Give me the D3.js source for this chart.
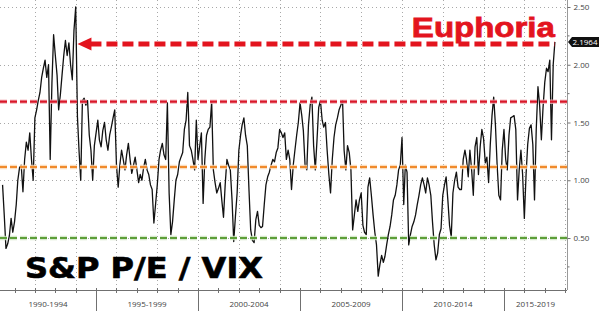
<!DOCTYPE html>
<html>
<head>
<meta charset="utf-8">
<script src="https://cdnjs.cloudflare.com/ajax/libs/d3/7.8.5/d3.min.js"></script>
<style>
  body { margin: 0; background: #fff; }
  svg { display: block; }
</style>
</head>
<body>
<div id="chart"></div>
<script>
// S&P P/E divided by VIX, monthly, from June 1990
var firstMonth = new Date(1990, 5, 1);
var ratio = [
  0.96, 0.70, 0.41, 0.45, 0.52, 0.67, 0.55,                                // 1990
  0.64, 0.79, 1.00, 1.11, 1.13, 0.90, 1.18, 1.33, 1.26, 1.41, 1.18, 1.00,  // 1991
  1.54, 1.61, 1.69, 1.76, 1.89, 1.97, 2.04, 1.89, 2.00, 1.18, 1.84, 2.26,  // 1992
  2.08, 1.91, 1.61, 1.74, 1.91, 2.08, 2.21, 2.08, 2.19, 2.00, 1.87, 2.30,  // 1993
  2.50, 1.55, 1.26, 1.00, 1.69, 1.71, 1.65, 1.69, 1.39, 1.26, 1.00, 1.30,  // 1994
  1.41, 1.52, 1.35, 1.29, 1.43, 1.50, 1.35, 1.26, 1.39, 1.46, 1.54, 1.61,  // 1995
  1.13, 0.94, 1.13, 1.26, 1.18, 1.09, 1.22, 1.32, 1.18, 1.06, 1.13, 1.20,  // 1996
  1.09, 0.98, 1.05, 1.00, 1.11, 1.18, 1.09, 1.05, 0.96, 0.92, 0.63, 0.79,  // 1997
  0.96, 1.18, 1.26, 1.32, 1.22, 1.18, 1.67, 0.89, 0.53, 0.64, 0.83, 1.00,  // 1998
  1.05, 1.16, 1.20, 1.24, 1.44, 1.52, 1.76, 1.30, 1.26, 1.18, 1.09, 1.52,  // 1999
  1.18, 1.30, 1.41, 0.80, 1.18, 1.39, 1.44, 1.46, 1.68, 1.09, 0.98, 0.89,  // 2000
  0.93, 0.98, 0.83, 0.68, 0.96, 1.18, 1.13, 1.09, 0.83, 0.47, 0.69, 0.89,  // 2001
  1.26, 1.39, 1.48, 1.54, 1.39, 1.30, 0.92, 0.57, 0.48, 0.46, 0.66, 0.73,  // 2002
  0.61, 0.59, 0.60, 0.79, 0.96, 1.03, 1.07, 1.13, 1.18, 1.16, 1.24, 1.28,  // 2003
  1.44, 1.41, 1.37, 1.41, 1.18, 1.26, 1.18, 0.92, 1.13, 1.26, 1.39, 1.50,  // 2004
  1.67, 1.56, 1.43, 1.13, 1.09, 1.48, 1.65, 1.72, 1.30, 1.09, 1.35, 1.63,  // 2005
  1.69, 1.52, 1.46, 1.50, 1.26, 1.05, 0.89, 1.18, 1.37, 1.48, 1.54, 1.61,  // 2006
  1.65, 1.69, 1.26, 1.09, 1.30, 1.24, 1.09, 0.57, 0.70, 0.83, 0.73, 0.83,  // 2007
  0.89, 0.61, 0.55, 0.53, 0.94, 1.02, 0.87, 0.70, 0.55, 0.44, 0.17, 0.27,  // 2008
  0.35, 0.29, 0.34, 0.44, 0.53, 0.60, 0.70, 0.83, 0.87, 0.96, 1.09, 1.13,  // 2009
  1.37, 0.79, 1.13, 1.07, 0.44, 0.53, 0.60, 0.64, 0.70, 0.79, 0.87, 0.96,  // 2010
  1.02, 0.96, 0.89, 1.02, 0.96, 0.87, 0.64, 0.44, 0.31, 0.37, 0.53, 0.58,  // 2011
  0.87, 0.96, 1.03, 0.83, 0.61, 0.51, 0.89, 1.00, 1.07, 0.94, 0.92, 0.92,  // 2012
  1.18, 1.26, 1.18, 1.03, 1.26, 1.09, 0.87, 1.29, 1.37, 1.05, 1.29, 1.44,  // 2013
  1.36, 1.15, 1.20, 0.98, 1.31, 1.56, 1.72, 1.48, 1.13, 0.87, 0.83, 1.26,  // 2014
  1.44, 1.18, 1.09, 1.39, 1.54, 1.55, 1.56, 1.44, 0.83, 1.09, 1.26, 1.05,  // 2015
  0.67, 1.05, 1.31, 1.45, 1.48, 1.31, 0.83, 1.44, 1.81, 1.65, 1.35, 1.63,  // 2016
  1.85, 1.97, 1.94, 2.04, 1.35, 2.00, 2.1964                               // 2017
];

// horizontal reference levels: red, orange, green
var levels = [1.68, 1.115, 0.50];
var euphoriaLevel = 2.18;
var arrowFrom = new Date(1994, 1, 1);
var arrowTo = new Date(2017, 6, 1);

var periodStarts = [1990, 1995, 2000, 2005, 2010, 2015];
var periodLabels = ["1990-1994", "1995-1999", "2000-2004", "2005-2009", "2010-2014", "2015-2019"];
var yTicks = [0.5, 1.0, 1.5, 2.0, 2.5];
var yMinorTicks = [0.25, 0.75, 1.25, 1.75, 2.25];

var width = 600, height = 311;
var plotRight = 567, plotBottom = 290;

var data = ratio.map(function(v, i) {
  return { date: d3.timeMonth.offset(firstMonth, i), value: v };
});

var x = d3.scaleTime()
  .domain([new Date(1990, 3, 16), new Date(2018, 1, 3)])
  .range([0, plotRight]);

var y = d3.scaleLinear()
  .domain([0.05, 2.5606])
  .range([plotBottom, 0]);

var svg = d3.select("#chart")
  .append("svg")
  .attr("width", width)
  .attr("height", height);

svg.append("rect")
  .attr("width", width)
  .attr("height", height)
  .attr("fill", "#fff");

// dotted grid
var grid = svg.append("g")
  .attr("stroke", "#a8a8a8")
  .attr("stroke-width", 1)
  .attr("stroke-dasharray", "1,3");

grid.selectAll("line.v")
  .data(d3.timeYear.every(2).range(new Date(1991, 0, 1), new Date(2018, 0, 2)))
  .enter()
  .append("line")
  .attr("x1", function(d) { return Math.round(x(d)) + 0.5; })
  .attr("x2", function(d) { return Math.round(x(d)) + 0.5; })
  .attr("y1", 0)
  .attr("y2", plotBottom);

grid.selectAll("line.h")
  .data(yTicks)
  .enter()
  .append("line")
  .attr("x1", 0)
  .attr("x2", plotRight)
  .attr("y1", function(d) { return Math.round(y(d)) + 0.5; })
  .attr("y2", function(d) { return Math.round(y(d)) + 0.5; });

// the series
var line = d3.line()
  .x(function(d) { return x(d.date); })
  .y(function(d) { return y(d.value); });

svg.append("path")
  .datum(data)
  .attr("d", line)
  .attr("fill", "none")
  .attr("stroke", "#111")
  .attr("stroke-width", 1.3)
  .attr("stroke-linejoin", "round");

// reference levels
var levelColors = ["#d9182a", "#f08a2c", "#5c9e38"];
var haloColors = ["#f3b7bd", "#fbd6b0", "#cfe4c3"];

svg.selectAll("line.halo")
  .data(levels)
  .enter()
  .append("line")
  .attr("x1", 0)
  .attr("x2", plotRight)
  .attr("y1", function(d) { return y(d); })
  .attr("y2", function(d) { return y(d); })
  .attr("stroke", function(d, i) { return haloColors[i]; })
  .attr("stroke-width", 4.5)
  .attr("stroke-dasharray", "7,3")
  .attr("opacity", 0.8);

svg.selectAll("line.level")
  .data(levels)
  .enter()
  .append("line")
  .attr("x1", 0)
  .attr("x2", plotRight)
  .attr("y1", function(d) { return y(d); })
  .attr("y2", function(d) { return y(d); })
  .attr("stroke", function(d, i) { return levelColors[i]; })
  .attr("stroke-width", 2.2)
  .attr("stroke-dasharray", "7,3");

// euphoria arrow
var ay = y(euphoriaLevel);
var tipX = x(arrowFrom);
svg.append("line")
  .attr("x1", tipX + 13)
  .attr("x2", x(arrowTo))
  .attr("y1", ay)
  .attr("y2", ay)
  .attr("stroke", "#e3141e")
  .attr("stroke-width", 5)
  .attr("stroke-dasharray", "11,5");

svg.append("path")
  .attr("d", "M" + tipX + "," + ay + "L" + (tipX + 14) + "," + (ay - 6.5) + "L" + (tipX + 14) + "," + (ay + 6.5) + "Z")
  .attr("fill", "#e3141e");

svg.append("text")
  .attr("x", x(arrowTo))
  .attr("y", 37)
  .attr("text-anchor", "end")
  .attr("font-family", "Liberation Sans, Arial, sans-serif")
  .attr("font-weight", "bold")
  .attr("font-size", "28px")
  .attr("textLength", 143)
  .attr("lengthAdjust", "spacingAndGlyphs")
  .attr("fill", "#e3141e")
  .attr("stroke", "#e3141e")
  .attr("stroke-width", 0.8)
  .text("Euphoria");

// big title
svg.append("text")
  .attr("x", 25)
  .attr("y", 278)
  .attr("font-family", "DejaVu Sans, sans-serif")
  .attr("font-weight", "bold")
  .attr("font-size", "29px")
  .attr("textLength", 238)
  .attr("lengthAdjust", "spacingAndGlyphs")
  .attr("fill", "#000")
  .attr("stroke", "#000")
  .attr("stroke-width", 0.6)
  .text("S&P P/E / VIX");

// bottom axis
var axisColor = "#707070";
svg.append("line")
  .attr("x1", 0)
  .attr("x2", plotRight)
  .attr("y1", plotBottom + 0.5)
  .attr("y2", plotBottom + 0.5)
  .attr("stroke", axisColor);

svg.selectAll("line.yr")
  .data(d3.timeYear.range(new Date(1991, 0, 1), new Date(2018, 0, 2)))
  .enter()
  .append("line")
  .attr("x1", function(d) { return Math.round(x(d)) + 0.5; })
  .attr("x2", function(d) { return Math.round(x(d)) + 0.5; })
  .attr("y1", plotBottom - 2)
  .attr("y2", plotBottom + 3)
  .attr("stroke", axisColor);

svg.selectAll("line.period")
  .data(periodStarts.slice(1))
  .enter()
  .append("line")
  .attr("x1", function(d) { return Math.round(x(new Date(d, 0, 1))) + 0.5; })
  .attr("x2", function(d) { return Math.round(x(new Date(d, 0, 1))) + 0.5; })
  .attr("y1", plotBottom)
  .attr("y2", height)
  .attr("stroke", axisColor);

svg.selectAll("text.period")
  .data(periodStarts)
  .enter()
  .append("text")
  .attr("x", function(d) {
    var a = Math.max(0, x(new Date(d, 0, 1)));
    var b = Math.min(plotRight, x(new Date(d + 5, 0, 1)));
    return (a + b) / 2;
  })
  .attr("y", 307)
  .attr("text-anchor", "middle")
  .attr("font-family", "Open Sans, sans-serif")
  .attr("font-size", "8px")
  .attr("fill", "#444")
  .text(function(d, i) { return periodLabels[i]; });

// right axis
var yAxis = svg.append("g")
  .attr("transform", "translate(" + (plotRight + 0.5) + ",0)")
  .call(d3.axisRight(y)
    .tickValues(yTicks)
    .tickFormat(d3.format(".2f"))
    .tickSize(3)
    .tickPadding(3));

yAxis.select(".domain")
  .attr("d", "M0,0V" + plotBottom)
  .attr("stroke", "#999");
yAxis.selectAll(".tick line").attr("stroke", axisColor);
yAxis.selectAll(".tick text")
  .attr("font-family", "Open Sans, sans-serif")
  .attr("font-size", "8px")
  .attr("fill", "#444");

yAxis.selectAll("line.minor")
  .data(yMinorTicks)
  .enter()
  .append("line")
  .attr("x1", 0)
  .attr("x2", 2)
  .attr("y1", function(d) { return y(d); })
  .attr("y2", function(d) { return y(d); })
  .attr("stroke", axisColor);

// last value tag
var last = data[data.length - 1];
var ly = y(last.value);
svg.append("path")
  .attr("d", "M" + (plotRight + 1) + "," + ly +
    "L" + (plotRight + 5) + "," + (ly - 5) +
    "H" + 599 + "V" + (ly + 5) +
    "H" + (plotRight + 5) + "Z")
  .attr("fill", "#111");

svg.append("text")
  .attr("x", plotRight + 5.5)
  .attr("y", ly + 3)
  .attr("font-family", "Open Sans, sans-serif")
  .attr("font-size", "8px")
  .attr("fill", "#fff")
  .text(d3.format(".4f")(last.value));
</script>
</body>
</html>
